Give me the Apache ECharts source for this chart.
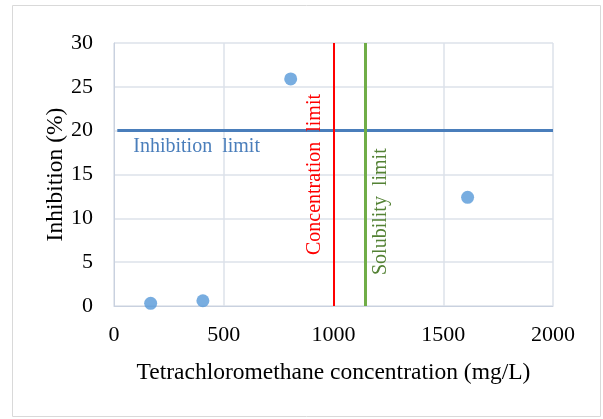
<!DOCTYPE html>
<html>
<head>
<meta charset="utf-8">
<script src="https://cdn.jsdelivr.net/npm/echarts@6/dist/echarts.min.js"></script>
<style>
  html, body { margin: 0; padding: 0; background: #fff; }
  #chart { width: 603px; height: 419px; }
</style>
</head>
<body>
<div id="chart"></div>
<script>
// measured points
var concentration = [167, 405, 805, 1611];
var inhibition = [0.3, 0.6, 25.9, 12.4];

// limits
var inhibitionLimit = 20;
var concentrationLimit = 1000;
var solubilityLimit = 1145;
var xTicks = [0, 500, 1000, 1500, 2000];
var yTicks = [0, 5, 10, 15, 20, 25, 30];

var serif = '"Liberation Serif", "Times New Roman", serif';

var chart = echarts.init(document.getElementById('chart'));

var points = concentration.map(function (c, i) { return [c, inhibition[i]]; });

var option = {
    animation: false,
    graphic: [{
        type: 'rect',
        shape: { x: 12.5, y: 5.5, width: 588, height: 411 },
        style: { fill: null, stroke: '#d9d9d9', lineWidth: 1 }
    }],
    grid: { left: 114, right: 50, top: 43, bottom: 113 },
    xAxis: {
        type: 'value',
        min: xTicks[0], max: xTicks[xTicks.length - 1], interval: 500,
        name: 'Tetrachloromethane concentration (mg/L)',
        nameLocation: 'middle', nameGap: 55,
        nameTextStyle: { fontFamily: serif, fontSize: 23.5, color: '#000' },
        axisLine: { lineStyle: { color: '#c9d1df', width: 1 } },
        axisTick: { show: false },
        axisLabel: { fontFamily: serif, fontSize: 22, color: '#000', margin: 18,
                     formatter: function (v) { return String(v); } },
        splitLine: { show: true, lineStyle: { color: '#dde2ea', width: 1.5 } }
    },
    yAxis: {
        type: 'value',
        min: yTicks[0], max: yTicks[yTicks.length - 1], interval: 5,
        name: 'Inhibition (%)',
        nameLocation: 'middle', nameGap: 46, nameMoveOverlap: false,
        nameTextStyle: { fontFamily: serif, fontSize: 23.5, color: '#000' },
        axisLine: { show: true, lineStyle: { color: '#c9d1df', width: 1 } },
        axisTick: { show: false },
        axisLabel: { fontFamily: serif, fontSize: 22, color: '#000', margin: 21 },
        splitLine: { show: true, lineStyle: { color: '#dde2ea', width: 1.5 } }
    },
    series: [{
        type: 'scatter',
        data: points,
        symbolSize: 13,
        itemStyle: { color: '#5698d8' },
        markLine: {
            silent: true,
            symbol: 'none',
            data: [
                [{ coord: [15, inhibitionLimit],
                   lineStyle: { color: '#4a7ebb', width: 3, type: 'solid' },
                   label: { show: true, position: 'insideStartBottom', formatter: 'Inhibition  limit',
                            fontFamily: serif, fontSize: 20, color: '#4a7ebb', distance: [16, 6] } },
                 { coord: [2000, inhibitionLimit] }],
                [{ coord: [concentrationLimit, 0],
                   lineStyle: { color: '#ff0000', width: 2, type: 'solid' },
                   label: { show: true, position: 'middle', formatter: 'Concentration  limit',
                            fontFamily: serif, fontSize: 20, color: '#ff0000', distance: 9 } },
                 { coord: [concentrationLimit, 30] }],
                [{ coord: [solubilityLimit, 0],
                   lineStyle: { color: '#70ad47', width: 3, type: 'solid' },
                   label: { show: true, position: 'insideStartBottom', formatter: 'Solubility  limit',
                            fontFamily: serif, fontSize: 20, color: '#548235', distance: [31, 5] } },
                 { coord: [solubilityLimit, 30] }]
            ]
        }
    }]
};

chart.setOption(option);
</script>
</body>
</html>
